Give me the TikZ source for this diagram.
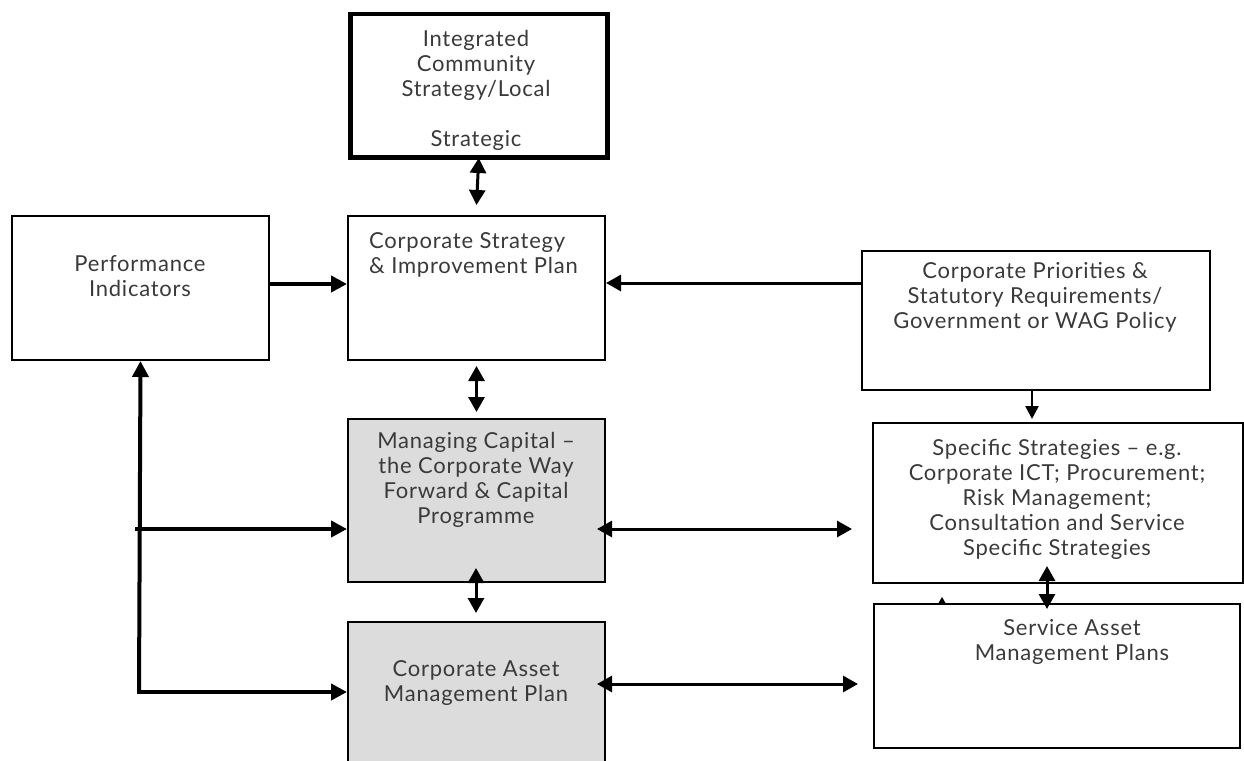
\documentclass[tikz,border=0pt]{standalone}
\usepackage{fontspec}
\setmainfont{Lato}[LetterSpace=3.5]
\usetikzlibrary{arrows.meta}
\definecolor{boxgrey}{HTML}{DCDCDC}
\definecolor{txtgrey}{HTML}{3A3A3A}
\begin{document}
\begin{tikzpicture}[x=1pt,y=-1pt,
  box/.style={draw=black, line width=2pt, anchor=north west, inner sep=0pt},
  gbox/.style={box, fill=boxgrey},
  txt/.style={anchor=north, inner sep=0pt, align=center, text=txtgrey,
    font=\fontsize{22}{25}\selectfont},
  arr/.style={line width=3pt, -{Triangle[length=15pt,width=16pt]}},
  darr/.style={line width=3pt, {Triangle[length=15pt,width=16pt]}-{Triangle[length=15pt,width=16pt]}},
  tarr/.style={line width=4pt, -{Triangle[length=16pt,width=16pt]}}]
\useasboundingbox (0,0) rectangle (1244,760);
\fill[white] (0,0) rectangle (1244,760);

% boxes
\node[box, line width=4.5pt, minimum width=257pt, minimum height=143pt] (ics) at (348,12) {};
\node[box, minimum width=257pt, minimum height=144pt] (pi) at (11,215) {};
\node[box, minimum width=257pt, minimum height=144pt] (csip) at (347,215) {};
\node[box, minimum width=348pt, minimum height=139pt] (cp) at (861,250) {};
\node[gbox, minimum width=257pt, minimum height=163pt] (mc) at (347,418) {};
\node[box, minimum width=370pt, minimum height=160pt] (ss) at (872,422) {};
\node[gbox, minimum width=257pt, minimum height=160pt] (cam) at (347,621) {};
\node[box, minimum width=366pt, minimum height=144pt] (sam) at (873,603) {};

% texts
\begin{scope}
\clip (350,14) rectangle (602,151);
\node[txt] (icst) at (476,30) {Integrated\\Community\\Strategy/Local\\ \\Strategic};
\end{scope}
\node[txt] (pit) at (140,255) {Performance\\Indicators};
\node[txt, anchor=north west, align=left] (csipt) at (369,232) {Corporate Strategy\\\& Improvement Plan};
\node[txt] (cpt) at (1035,262) {Corporate Priorities \&\\Statutory Requirements/\\Government or WAG Policy};
\node[txt] (mct) at (476,432) {Managing Capital –\\the Corporate Way\\Forward \& Capital\\Programme};
\node[txt] (sst) at (1057,439) {Specific Strategies – e.g.\\Corporate ICT; Procurement;\\Risk Management;\\Consultation and Service\\Specific Strategies};
\node[txt] (camt) at (476,660) {Corporate Asset\\Management Plan};
\node[txt] (samt) at (1072,619) {Service Asset\\Management Plans};

% connectors
\coordinate (a1) at (476,158); \coordinate (a2) at (476,205);
\draw[darr] (ics.south |- a1) -- (csip.north |- a2);
\coordinate (pic) at (268,284);
\draw[tarr] (pi.east |- pic) -- (csip.west |- pic);
\coordinate (cpin) at (604,283);
\draw[arr] (cp.west |- cpin) -- (csip.east |- cpin);
\coordinate (b1) at (476,366); \coordinate (b2) at (476,412);
\draw[darr] (csip.south |- b1) -- (mc.north |- b2);
\coordinate (c1) at (1032,389); \coordinate (c2) at (1032,419);
\draw[line width=2.5pt, -{Triangle[length=13pt,width=13pt]}] (c1) -- (c2);
\coordinate (mcss) at (597,529); \coordinate (mcss2) at (852,529);
\draw[darr] (mcss) -- (mcss2);
\coordinate (corner) at (139,692);
\coordinate (pitip) at (139,361);
\draw[tarr] (corner) -- (pi.south |- pitip);
\draw[tarr] ([xshift=-2pt]corner) -- (cam.west |- corner);
\coordinate (mcin) at (135,529);
\draw[tarr] (mcin) -- (mc.west |- mcin);
\coordinate (d1) at (476,568); \coordinate (d2) at (476,613);
\draw[darr] (d1) -- (d2);
\coordinate (camsam) at (597,684); \coordinate (camsam2) at (858,684);
\draw[darr] (camsam) -- (camsam2);
\coordinate (e1) at (1047,566); \coordinate (e2) at (1047,609);
\draw[darr] (e1) -- (e2);
% small stray tip on top of the lower right box
\fill (938.5,603) -- (945.5,603) -- (942,597) -- cycle;
\end{tikzpicture}
\end{document}
